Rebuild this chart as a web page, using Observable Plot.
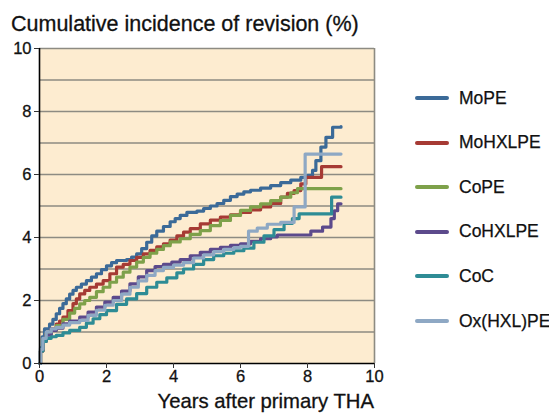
<!DOCTYPE html>
<html><head><meta charset="utf-8">
<script src="https://cdn.jsdelivr.net/npm/d3@7"></script>
<script src="https://cdn.jsdelivr.net/npm/@observablehq/plot@0.6"></script>
<style>
body{margin:0;background:#fff;}
#wrap{position:relative;width:549px;height:414px;font-family:"Liberation Sans",Arial,Helvetica,sans-serif;color:#111;}
#chart{position:absolute;left:0;top:0;}
#title{position:absolute;left:11px;top:13.5px;font-size:21.5px;line-height:21.5px;white-space:nowrap;-webkit-text-stroke:0.3px #111;}
#xlabel{position:absolute;right:175px;top:391px;font-size:20.3px;line-height:20.3px;white-space:nowrap;text-align:right;-webkit-text-stroke:0.3px #111;}
#legend{position:absolute;left:415px;top:0;}
.item{position:absolute;left:0;width:140px;height:20px;}
.sw{position:absolute;left:0;width:34px;height:4px;border-radius:2px;}
.lab{position:absolute;left:44px;font-size:17.5px;line-height:17.5px;white-space:nowrap;-webkit-text-stroke:0.25px #111;}
#chart svg text{stroke:#111;stroke-width:0.3px;}
</style></head><body>
<div id="wrap">
<div id="chart"></div>
<div id="title">Cumulative incidence of revision (%)</div>
<div id="xlabel">Years after primary THA</div>
<div id="legend"></div>
</div>
<script>
const seriesNames = ["MoPE","MoHXLPE","CoPE","CoHXLPE","CoC","Ox(HXL)PE"];
const seriesColors = ["#3b6a98","#a63a34","#7ea14a","#5c4a8c","#2e8c95","#8ea8c4"];
const xTicks = [0,2,4,6,8,10];
const yTicks = [0,2,4,6,8,10];
const gridLevels = [1,2,3,4,5,6,7,8,9,10];

// [years, cumulative incidence %]
const moPE = [[0,0],[0.03,0.5],[0.08,0.85],[0.15,1.1],[0.3,1.25],[0.4,1.4],[0.5,1.58],[0.6,1.75],[0.7,1.9],[0.8,2.05],[0.9,2.2],[1.0,2.32],[1.1,2.42],[1.25,2.52],[1.4,2.63],[1.55,2.74],[1.7,2.85],[1.85,2.98],[2.0,3.1],[2.15,3.2],[2.3,3.27],[2.6,3.3],[2.75,3.38],[2.9,3.48],[3.05,3.65],[3.2,3.85],[3.35,4.05],[3.5,4.2],[3.7,4.35],[3.9,4.5],[4.05,4.6],[4.2,4.7],[4.4,4.8],[4.7,4.84],[4.9,4.92],[5.1,5.0],[5.3,5.08],[5.5,5.18],[5.7,5.3],[5.9,5.38],[6.1,5.45],[6.3,5.5],[6.6,5.57],[6.9,5.65],[7.2,5.74],[7.5,5.82],[7.8,5.91],[8.0,5.97],[8.15,6.13],[8.25,6.44],[8.4,6.87],[8.55,7.18],[8.75,7.5],[9.0,7.52]];
const moHXLPE = [[0,0],[0.03,0.4],[0.1,0.75],[0.2,0.95],[0.35,1.1],[0.5,1.25],[0.6,1.35],[0.7,1.47],[0.85,1.68],[1.0,1.9],[1.1,2.05],[1.2,2.21],[1.35,2.32],[1.5,2.42],[1.7,2.52],[1.9,2.63],[2.1,2.85],[2.3,3.06],[2.5,3.15],[2.7,3.27],[2.9,3.37],[3.1,3.48],[3.3,3.59],[3.5,3.7],[3.7,3.8],[3.9,3.92],[4.1,4.05],[4.3,4.17],[4.5,4.28],[4.8,4.43],[5.1,4.55],[5.4,4.65],[5.7,4.72],[6.0,4.8],[6.3,4.88],[6.6,4.97],[6.9,5.08],[7.2,5.28],[7.4,5.4],[7.6,5.49],[7.8,5.7],[7.95,5.91],[8.42,6.25],[9.0,6.25]];
const coPE = [[0,0],[0.03,0.4],[0.1,0.75],[0.2,0.95],[0.35,1.05],[0.5,1.2],[0.7,1.4],[0.9,1.6],[1.05,1.75],[1.2,1.89],[1.35,2.0],[1.5,2.1],[1.7,2.28],[1.9,2.42],[2.1,2.58],[2.3,2.74],[2.5,2.9],[2.7,3.06],[2.9,3.22],[3.1,3.37],[3.3,3.5],[3.5,3.62],[3.7,3.74],[3.9,3.86],[4.2,3.96],[4.5,4.1],[4.8,4.22],[5.1,4.38],[5.4,4.54],[5.7,4.7],[6.0,4.86],[6.3,4.97],[6.6,5.07],[6.9,5.17],[7.2,5.28],[7.5,5.42],[7.7,5.55],[9.0,5.55]];
const coHXLPE = [[0,0],[0.03,0.4],[0.1,0.7],[0.2,0.9],[0.35,1.05],[0.5,1.12],[0.7,1.26],[0.9,1.35],[1.2,1.47],[1.45,1.63],[1.7,1.79],[1.95,1.95],[2.2,2.1],[2.45,2.3],[2.7,2.53],[2.95,2.75],[3.2,2.95],[3.45,3.08],[3.7,3.15],[3.95,3.22],[4.2,3.3],[4.5,3.42],[4.8,3.53],[5.1,3.62],[5.4,3.69],[5.7,3.75],[6.0,3.8],[6.3,3.88],[6.6,3.96],[6.9,4.02],[7.1,4.08],[8.1,4.2],[8.45,4.33],[8.7,4.6],[8.8,4.85],[8.9,5.07],[9.0,5.07]];
const coC = [[0,0],[0.03,0.4],[0.1,0.7],[0.2,0.8],[0.35,0.85],[0.5,0.89],[0.7,0.97],[0.9,1.05],[1.2,1.15],[1.4,1.28],[1.6,1.42],[1.8,1.55],[2.0,1.68],[2.3,1.88],[2.6,2.05],[2.9,2.22],[3.2,2.42],[3.5,2.58],[3.8,2.72],[4.1,2.88],[4.3,3.0],[4.6,3.15],[4.9,3.3],[5.2,3.42],[5.5,3.5],[5.8,3.58],[6.1,3.66],[6.4,3.85],[6.7,4.05],[7.0,4.25],[7.3,4.45],[7.55,4.6],[7.75,4.75],[8.72,5.28],[9.0,5.28]];
const oxHXLPE = [[0,0],[0.03,0.45],[0.1,0.8],[0.2,1.0],[0.35,1.1],[0.5,1.15],[0.7,1.22],[0.9,1.3],[1.2,1.37],[1.45,1.53],[1.7,1.69],[1.95,1.85],[2.2,2.0],[2.45,2.2],[2.7,2.42],[2.95,2.62],[3.2,2.8],[3.45,2.95],[3.7,3.05],[4.0,3.12],[4.3,3.2],[4.6,3.35],[4.9,3.45],[5.2,3.55],[5.5,3.62],[5.8,3.68],[6.0,3.72],[6.24,4.2],[6.5,4.3],[6.8,4.42],[7.2,4.48],[7.6,4.97],[7.93,6.65],[9.0,6.65]];

const allSeries = [moPE, moHXLPE, coPE, coHXLPE, coC, oxHXLPE];
const rows = [];
allSeries.forEach((s, i) => s.forEach(([t, v]) => rows.push({series: seriesNames[i], year: t, pct: v})));

const chart = Plot.plot({
  width: 549, height: 414,
  marginLeft: 39, marginRight: 175, marginTop: 48, marginBottom: 51,
  x: {domain: [0, 10]},
  y: {domain: [0, 10]},
  color: {domain: seriesNames, range: seriesColors},
  style: {fontFamily: '"Liberation Sans", Arial, sans-serif', fontSize: "16.5px", color: "#111", background: "transparent"},
  marks: [
    Plot.frame({fill: "#fdecd0", stroke: null}),
    Plot.ruleY(gridLevels, {stroke: "#8d8b82", strokeWidth: 1.6}),
    Plot.ruleX([10], {stroke: "#8d8b82", strokeWidth: 1.6}),
    Plot.lineY(rows, {x: "year", y: "pct", z: "series", stroke: "series", curve: "step-after", strokeWidth: 3.2}),
    Plot.ruleX([0], {stroke: "#000", strokeWidth: 1.6}),
    Plot.ruleY([0], {stroke: "#000", strokeWidth: 1.6}),
    Plot.axisX({ticks: xTicks, tickSize: 5, tickPadding: 2, label: null, stroke: "#333"}),
    Plot.axisY({ticks: yTicks, tickSize: 5, tickPadding: 3, label: null, stroke: "#333"})
  ]
});
document.getElementById("chart").appendChild(chart);

const legend = document.getElementById("legend");
seriesNames.forEach((name, i) => {
  const item = document.createElement("div");
  item.className = "item";
  item.style.top = (88 + i * 44.6) + "px";
  const sw = document.createElement("div");
  sw.className = "sw";
  sw.style.background = seriesColors[i];
  sw.style.top = "8px";
  const lab = document.createElement("div");
  lab.className = "lab";
  lab.style.top = "1.5px";
  lab.textContent = name;
  item.appendChild(sw); item.appendChild(lab);
  legend.appendChild(item);
});
</script>
</body></html>
